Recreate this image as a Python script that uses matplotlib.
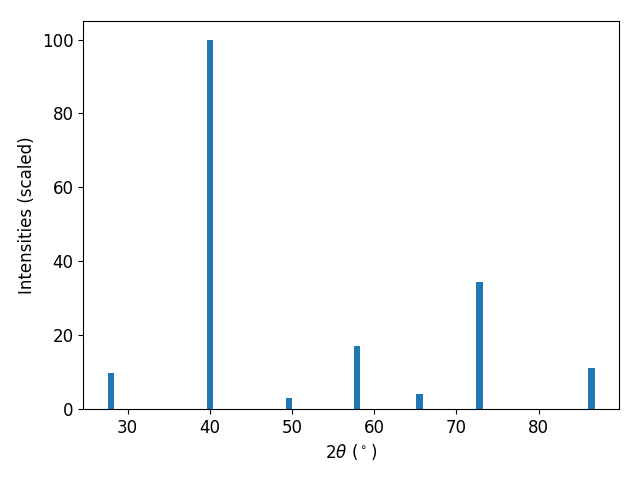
import matplotlib.pyplot as plt

# peak positions (2theta, degrees) and scaled intensities
two_theta = [27.95, 40.0, 49.65, 57.9, 65.5, 72.8, 86.4]
intensities = [9.8, 100.0, 3.0, 17.1, 4.1, 34.4, 11.1]

plt.rcParams['font.size'] = 12

fig, ax = plt.subplots(figsize=(6.4, 4.8), dpi=100)
ax.bar(two_theta, intensities, width=0.8, color='#1f77b4')
ax.set_xlabel(r'$2\theta$ ($^\circ$)')
ax.set_ylabel('Intensities (scaled)')

fig.subplots_adjust(left=0.13, right=0.967, top=0.956, bottom=0.148)
plt.savefig('out.png', dpi=100)
plt.close()
